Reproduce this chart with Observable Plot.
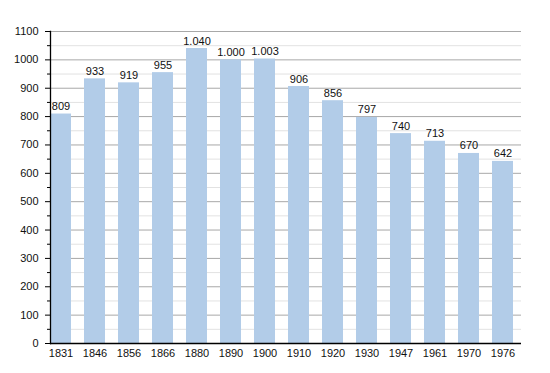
<!DOCTYPE html>
<html><head><meta charset="utf-8">
<script src="https://cdn.jsdelivr.net/npm/d3@7"></script>
<script src="https://cdn.jsdelivr.net/npm/@observablehq/plot@0.6"></script>
<style>
body{margin:0;background:#fff;}
#chart svg{font-family:"Liberation Sans",Arial,sans-serif;}
</style>
</head><body><div id="chart"></div>
<script>
const years = ["1831","1846","1856","1866","1880","1890","1900","1910","1920","1930","1947","1961","1970","1976"];
const population = [809,933,919,955,1040,1000,1003,906,856,797,740,713,670,642];
const majorTicks = [0,100,200,300,400,500,600,700,800,900,1000,1100];
const minorTicks = [50,150,250,350,450,550,650,750,850,950,1050];

const data = years.map((y,i)=>({year:y, value:population[i]}));
const fmt = d3.formatLocale({thousands:".", decimal:",", grouping:[3], currency:["",""]}).format(",d");

const chart = Plot.plot({
  width:550, height:373,
  marginLeft:50, marginRight:29, marginTop:31, marginBottom:30,
  style:{fontSize:"11px", fontFamily:"'Liberation Sans',Arial,sans-serif", color:"#000", background:"#fff"},
  x:{domain:years, paddingInner:0.39, paddingOuter:0, align:0, label:null},
  y:{domain:[0,1100], label:null},
  marks:[
    Plot.ruleY(minorTicks,{stroke:"#e2e2e2", strokeWidth:1, strokeOpacity:1}),
    Plot.ruleY(majorTicks.slice(1),{stroke:"#a8a8a8", strokeWidth:1, strokeOpacity:1}),
    Plot.barY(data,{x:"year", y:"value", fill:"#b2cce8"}),
    Plot.text(data,{x:"year", y:"value", text:d=>fmt(d.value), lineAnchor:"bottom", dy:-4, fill:"#111"}),
    Plot.axisY(majorTicks,{tickSize:5, tickPadding:7, tickFormat:d=>String(d), stroke:"#000", strokeOpacity:1, fill:"#111"}),
    Plot.axisY(minorTicks,{tickSize:3, text:null, stroke:"#000", strokeOpacity:1}),
    Plot.axisX({tickSize:0, tickPadding:6, fill:"#111"}),
    Plot.frame({anchor:"left", stroke:"#000", strokeWidth:1.3}),
    Plot.ruleY([0],{stroke:"#000", strokeWidth:1.5})
  ]
});
document.getElementById("chart").appendChild(chart);
</script></body></html>
